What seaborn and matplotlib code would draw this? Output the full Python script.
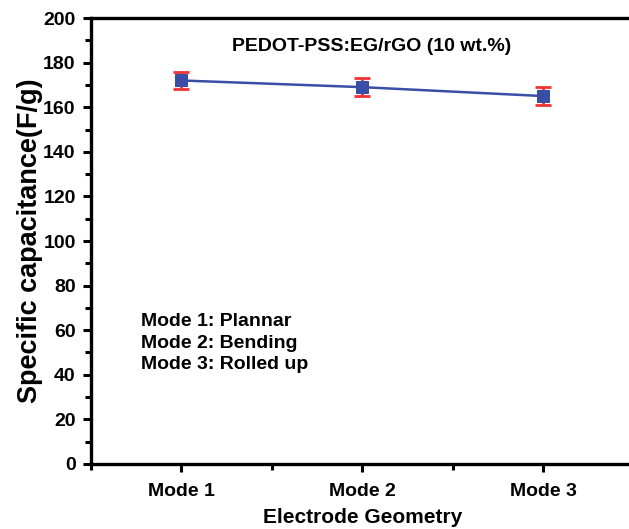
import matplotlib
matplotlib.use("Agg")
import matplotlib.pyplot as plt
import pandas as pd
import seaborn as sns
from matplotlib.ticker import MultipleLocator

modes = ["Mode 1", "Mode 2", "Mode 3"]
positions = [1, 2, 3]
capacitance = [172, 169, 165]
error = [4, 4, 4]

df = pd.DataFrame({"pos": positions, "cap": capacitance, "err": error})

sns.set_style("ticks")
plt.rcParams["font.family"] = ["Liberation Sans", "DejaVu Sans"]
plt.rcParams["font.weight"] = "bold"
plt.rcParams["text.color"] = "black"
plt.rcParams["axes.labelcolor"] = "black"
plt.rcParams["xtick.color"] = "black"
plt.rcParams["ytick.color"] = "black"
plt.rcParams["axes.edgecolor"] = "black"

fig = plt.figure(figsize=(6.29, 5.29), dpi=100)
ax = fig.add_axes([0.1447, 0.1229, 0.863, 0.843])

ax.errorbar(df["pos"], df["cap"], yerr=df["err"], fmt="none", ecolor="#f03232",
            elinewidth=2, capsize=6, capthick=2, zorder=2)
sns.lineplot(data=df, x="pos", y="cap", ax=ax, color="#3a4ea6", linewidth=1.8,
             marker="s", markersize=8, markeredgecolor="#3a4ea6", zorder=3)

ax.set_xlim(0.5, 3.5)
ax.set_ylim(0, 200)
ax.set_xticks(positions)
ax.set_xticklabels(modes)
ax.xaxis.set_minor_locator(MultipleLocator(0.5))
ax.yaxis.set_major_locator(MultipleLocator(20))
ax.yaxis.set_minor_locator(MultipleLocator(10))

for side in ["left", "bottom", "top", "right"]:
    ax.spines[side].set_linewidth(2.4)
ax.tick_params(which="major", length=6, width=2.2, labelsize=14, direction="out")
ax.tick_params(which="minor", length=4, width=2.2, direction="out")
ax.tick_params(axis="x", pad=8)
ax.tick_params(axis="y", pad=5)

ax.set_xlabel("Electrode Geometry", fontsize=15, fontweight="bold", labelpad=5.5)
ax.set_ylabel("Specific capacitance(F/g)", fontsize=19.5, fontweight="bold", labelpad=0)

ax.text(0.517, 0.937, "PEDOT-PSS:EG/rGO (10 wt.%)", transform=ax.transAxes,
        ha="center", va="center", fontsize=14, fontweight="bold")
ax.text(0.092, 0.271, "Mode 1: Plannar\nMode 2: Bending\nMode 3: Rolled up",
        transform=ax.transAxes, ha="left", va="center", fontsize=14,
        fontweight="bold", linespacing=1.35, multialignment="left")

fig.savefig("out.png", dpi=100)
